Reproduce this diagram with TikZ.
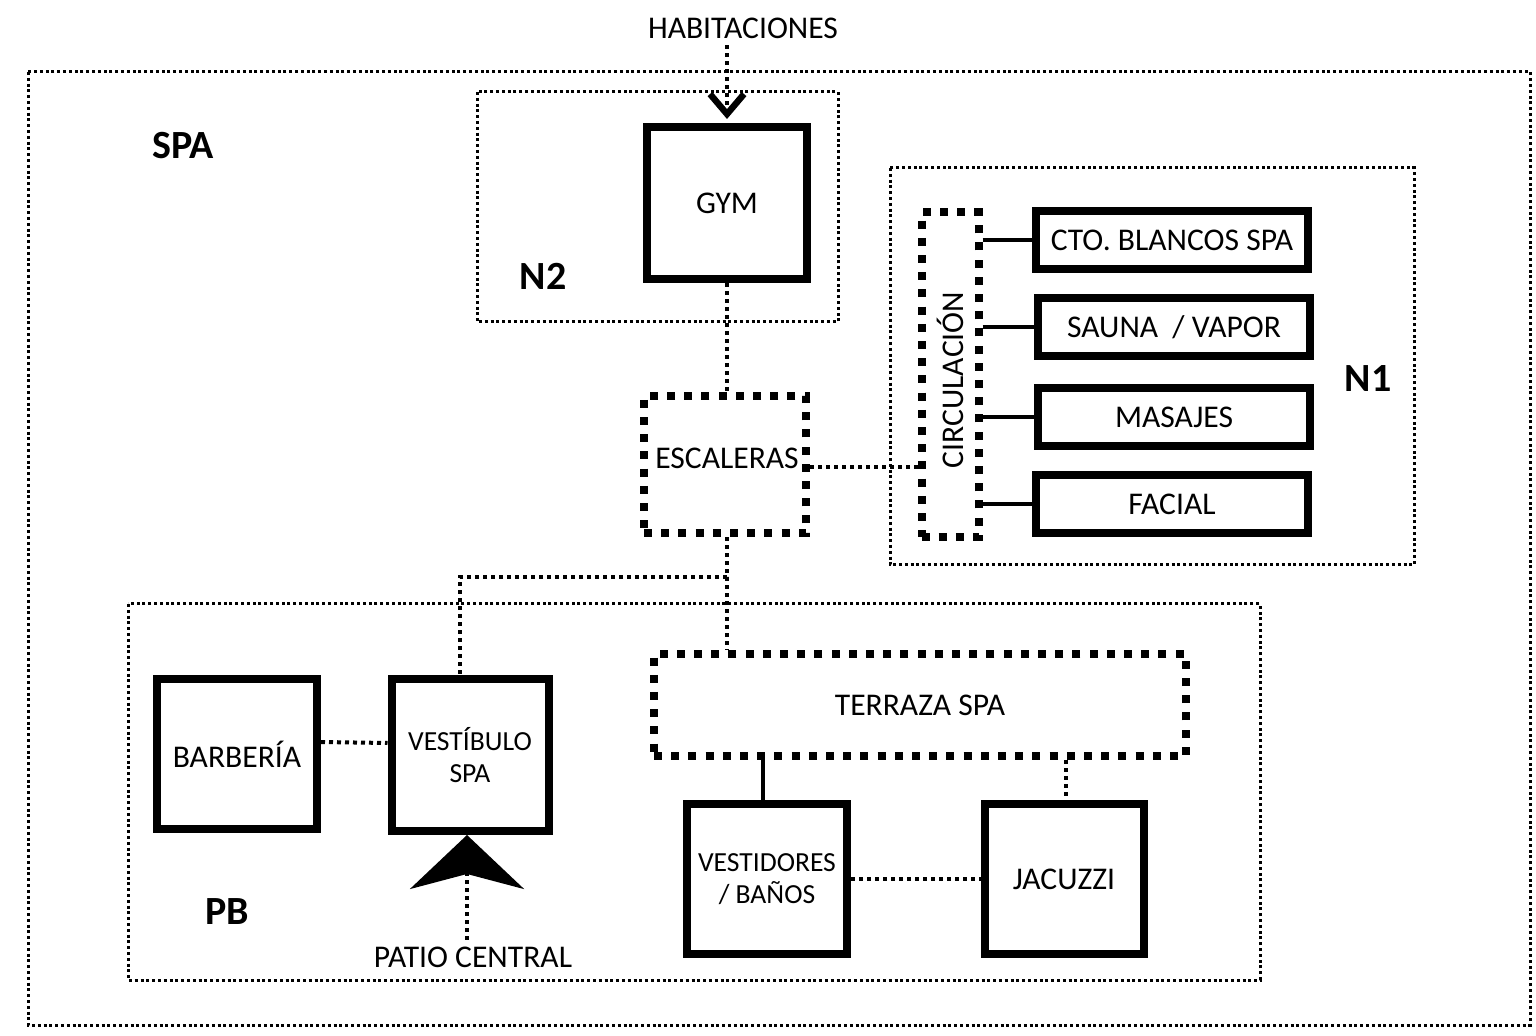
\documentclass[tikz,border=0pt]{standalone}
\usepackage{fontspec}
\setmainfont{Carlito}
\usetikzlibrary{arrows.meta,calc,positioning}
\newcommand{\pxl}{0.5pt}
\newcommand{\roomfont}{\fontsize{15.8}{16}\selectfont}
\newcommand{\twolinefont}{\fontsize{13.8}{16}\selectfont}
\newcommand{\levelfont}{\fontsize{20}{22}\selectfont\bfseries}
\tikzset{
  >=Latex,
  room/.style={
    draw=black,
    rectangle,
    line width=4pt,
    inner sep=2pt,
    align=center,
    font=\roomfont
  },
  openarea/.style={
    draw=black,
    rectangle,
    line width=4pt,
    dash pattern=on 4pt off 4.6pt,
    inner sep=2pt,
    align=center,
    font=\roomfont
  },
  zone/.style={draw=black,line width=1.5pt,dash pattern=on 1.5pt off 1.4pt},
  link/.style={draw=black,line width=2pt,dash pattern=on 2pt off 2pt},
  wire/.style={draw=black,line width=1.6pt},
  level/.style={font=\levelfont},
  tag/.style={font=\roomfont}
}

\begin{document}
\begin{tikzpicture}[x=\pxl,y=-\pxl]
  \useasboundingbox (0,0) rectangle (1536,1036);
  \fill[white] (0,0) rectangle (1536,1036);

  % Zones
  \draw[zone] (28,72) rectangle (1530,1025);
  \draw[zone] (477,92) rectangle (838,322);
  \draw[zone] (890,168) rectangle (1414,565);
  \draw[zone] (128,604) rectangle (1260,980);

  \node[level] (spa) at (183,146) {SPA};
  \node[level] (ntwo) at (543,276) {N2};
  \node[level] (none) at (1368,379) {N1};
  \node[level] (pb) at (227,912) {PB};

  % N2
  \node[tag] (habit) at (743,28) {HABITACIONES};
  \node[room,minimum width=160*\pxl,minimum height=152*\pxl] (gym) at (727,203) {GYM};
  \draw[link,-{Straight Barb[length=10pt,width=17pt,line width=3.2pt]}]
    (gym.north |- habit.south) -- ([yshift=2pt]gym.north);

  % Stairs
  \node[openarea,minimum width=162*\pxl,minimum height=137*\pxl] (escaleras) at (725,465) {};
  \node[tag] (esctext) at (727,458) {ESCALERAS};
  \draw[link] (gym.south) -- (gym.south |- escaleras.north);

  % N1
  \node[openarea,minimum width=57*\pxl,minimum height=325*\pxl] (circulacion) at (950,375) {};
  \node[tag,rotate=90] (circtext) at (950,380) {CIRCULACIÓN};
  \draw[link] ([yshift=-1pt]escaleras.east) -- ([yshift=-1pt]escaleras.east -| circulacion.west);

  \node[room,minimum width=272*\pxl,minimum height=58*\pxl] (blancos) at (1172,240) {CTO. BLANCOS SPA};
  \node[room,minimum width=272*\pxl,minimum height=58*\pxl] (sauna) at (1174,327) {SAUNA \ / VAPOR};
  \node[room,minimum width=272*\pxl,minimum height=58*\pxl] (masajes) at (1174,417) {MASAJES};
  \node[room,minimum width=272*\pxl,minimum height=58*\pxl] (facial) at (1172,504) {FACIAL};

  \foreach \room in {blancos,sauna,masajes,facial} {
    \draw[wire] (\room.west -| circulacion.east) -- (\room.west);
  }

  % PB
  \node[room,minimum width=160*\pxl,minimum height=150*\pxl] (barberia) at (237,754) {BARBERÍA};
  \node[room,font=\twolinefont,minimum width=157*\pxl,minimum height=152*\pxl] (vestibulo) at (470,755) {VESTÍBULO\\SPA};
  \node[openarea,minimum width=532*\pxl,minimum height=102*\pxl] (terraza) at (920,705) {TERRAZA SPA};
  \node[room,font=\twolinefont,minimum width=160*\pxl,minimum height=150*\pxl] (vestidores) at (767,879) {VESTIDORES\\/ BAÑOS};
  \node[room,minimum width=159*\pxl,minimum height=150*\pxl] (jacuzzi) at (1064,879) {JACUZZI};
  \node[tag] (patio) at (473,957) {PATIO CENTRAL};

  \coordinate (split) at ($(escaleras.south)+(2,40)$);
  \draw[link] (escaleras.south -| split) -- (split) -| ([xshift=-5pt]vestibulo.north);
  \draw[link] (split) -- (split |- terraza.north);

  \draw[link] ([yshift=6pt]barberia.east) -- ([yshift=6pt]vestibulo.west);
  \draw[link,-{Stealth[length=27pt,width=57pt,inset=7.5pt]}]
    ([xshift=-1.5pt]vestibulo.south |- patio.north) -- ([xshift=-1.5pt]vestibulo.south);

  \draw[wire] ([xshift=-2pt]vestidores.north |- terraza.south) -- ([xshift=-2pt]vestidores.north);
  \draw[link] ([xshift=1pt]jacuzzi.north |- terraza.south) -- ([xshift=1pt]jacuzzi.north);
  \draw[link] (vestidores.east) -- (jacuzzi.west);
\end{tikzpicture}
\end{document}
